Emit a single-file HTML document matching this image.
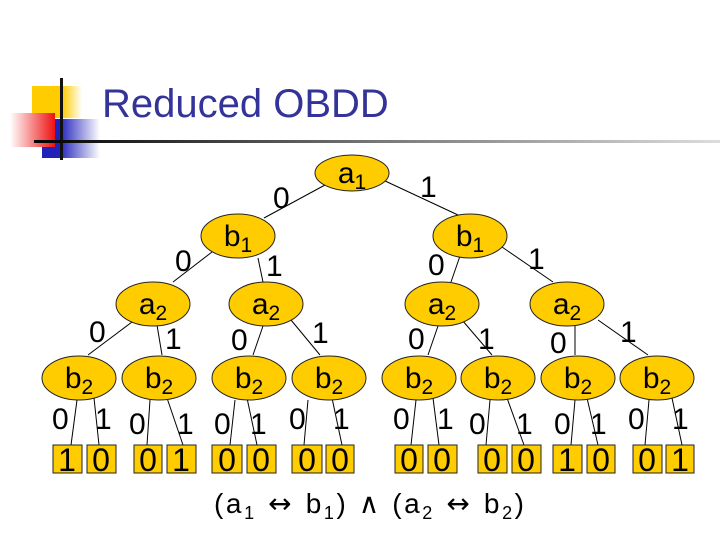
<!DOCTYPE html>
<html><head><meta charset="utf-8"><style>
html,body{margin:0;padding:0;background:#fff;}
svg{display:block;}
text{font-family:"Liberation Sans",sans-serif;}
</style></head><body>
<svg width="720" height="540" viewBox="0 0 720 540" xmlns="http://www.w3.org/2000/svg">
<defs>
<linearGradient id="gy" x1="0" x2="1"><stop offset="0.6" stop-color="#ffcc00"/><stop offset="1" stop-color="#fff"/></linearGradient>
<linearGradient id="gr" x1="0" x2="1"><stop offset="0" stop-color="#fff"/><stop offset="1" stop-color="#ee1111"/></linearGradient>
<linearGradient id="gb" x1="0" x2="1"><stop offset="0.3" stop-color="#2222bb"/><stop offset="1" stop-color="#fff"/></linearGradient>
<linearGradient id="gl" x1="0" x2="1"><stop offset="0" stop-color="#000"/><stop offset="0.5" stop-color="#777"/><stop offset="1" stop-color="#ddd"/></linearGradient>
</defs>
<rect x="32" y="86" width="50" height="32" fill="url(#gy)"/>
<rect x="42" y="119" width="58" height="39" fill="url(#gb)"/>
<rect x="10" y="113" width="45" height="34" fill="url(#gr)"/>
<rect x="60" y="78" width="3" height="82" fill="#111"/>
<rect x="34" y="140" width="686" height="3" fill="url(#gl)"/>
<text x="102" y="117" font-size="40" fill="#333399">Reduced OBDD</text>

<g stroke="#000" stroke-width="1">
<line x1="325" y1="185" x2="264" y2="218"/>
<line x1="383" y1="180" x2="458" y2="215"/>
<line x1="212" y1="252" x2="173" y2="282"/>
<line x1="258" y1="258" x2="263" y2="282"/>
<line x1="132" y1="322" x2="88" y2="355"/>
<line x1="157" y1="325" x2="162" y2="355"/>
<line x1="263" y1="326" x2="253" y2="355"/>
<line x1="291" y1="320" x2="320" y2="355"/>
<line x1="460" y1="256" x2="451" y2="282"/>
<line x1="502" y1="247" x2="553" y2="282"/>
<line x1="438" y1="326" x2="428" y2="355"/>
<line x1="462" y1="320" x2="492" y2="355"/>
<line x1="575" y1="325" x2="575" y2="355"/>
<line x1="598" y1="320" x2="648" y2="355"/>
<line x1="77" y1="400" x2="71" y2="445"/><line x1="94" y1="398" x2="99" y2="445"/>
<line x1="150" y1="400" x2="147" y2="445"/><line x1="167" y1="398" x2="183" y2="445"/>
<line x1="235" y1="400" x2="230" y2="445"/><line x1="247" y1="398" x2="257" y2="445"/>
<line x1="308" y1="400" x2="304" y2="445"/><line x1="332" y1="398" x2="342" y2="445"/>
<line x1="416" y1="400" x2="411" y2="445"/><line x1="433" y1="398" x2="439" y2="445"/>
<line x1="490" y1="400" x2="486" y2="445"/><line x1="507" y1="398" x2="524" y2="445"/>
<line x1="575" y1="400" x2="571" y2="445"/><line x1="587" y1="398" x2="598" y2="445"/>
<line x1="649" y1="400" x2="645" y2="445"/><line x1="672" y1="398" x2="682" y2="445"/>
</g>

<g fill="#ffcc00" stroke="#222" stroke-width="1">
<ellipse cx="352" cy="173" rx="37" ry="18"/>
<ellipse cx="238" cy="236" rx="37" ry="22"/>
<ellipse cx="470" cy="236" rx="37" ry="22"/>
<ellipse cx="153" cy="304" rx="37" ry="22"/>
<ellipse cx="266" cy="304" rx="37" ry="22"/>
<ellipse cx="442" cy="304" rx="37" ry="22"/>
<ellipse cx="567" cy="304" rx="37" ry="22"/>
<ellipse cx="79" cy="378" rx="37" ry="22"/>
<ellipse cx="159" cy="378" rx="37" ry="22"/>
<ellipse cx="249" cy="378" rx="37" ry="22"/>
<ellipse cx="329" cy="378" rx="37" ry="22"/>
<ellipse cx="419" cy="378" rx="37" ry="22"/>
<ellipse cx="498" cy="378" rx="37" ry="22"/>
<ellipse cx="578" cy="378" rx="37" ry="22"/>
<ellipse cx="657" cy="378" rx="37" ry="22"/>
<rect x="53" y="445" width="29" height="28"/><rect x="87" y="445" width="29" height="28"/>
<rect x="134" y="445" width="28" height="28"/><rect x="167" y="445" width="29" height="28"/>
<rect x="212" y="445" width="30" height="28"/><rect x="247" y="445" width="29" height="28"/>
<rect x="292" y="445" width="30" height="28"/><rect x="326" y="445" width="28" height="28"/>
<rect x="395" y="445" width="28" height="28"/><rect x="428" y="445" width="29" height="28"/>
<rect x="478" y="445" width="29" height="28"/><rect x="512" y="445" width="29" height="28"/>
<rect x="553" y="445" width="29" height="28"/><rect x="587" y="445" width="28" height="28"/>
<rect x="633" y="445" width="29" height="28"/><rect x="666" y="445" width="28" height="28"/>
</g>
<g font-size="32" text-anchor="middle" fill="#000">
<text x="67" y="471">1</text><text x="101" y="471">0</text>
<text x="148" y="471">0</text><text x="181" y="471">1</text>
<text x="227" y="471">0</text><text x="261" y="471">0</text>
<text x="307" y="471">0</text><text x="340" y="471">0</text>
<text x="409" y="471">0</text><text x="442" y="471">0</text>
<text x="492" y="471">0</text><text x="526" y="471">0</text>
<text x="567" y="471">1</text><text x="601" y="471">0</text>
<text x="647" y="471">0</text><text x="680" y="471">1</text>
</g>
<g font-size="30" fill="#000" text-anchor="middle">
<text x="352" y="183">a<tspan font-size="21" dy="6">1</tspan></text>
<text x="238" y="246">b<tspan font-size="21" dy="6">1</tspan></text>
<text x="470" y="246">b<tspan font-size="21" dy="6">1</tspan></text>
<text x="153" y="314">a<tspan font-size="21" dy="6">2</tspan></text>
<text x="266" y="314">a<tspan font-size="21" dy="6">2</tspan></text>
<text x="442" y="314">a<tspan font-size="21" dy="6">2</tspan></text>
<text x="567" y="314">a<tspan font-size="21" dy="6">2</tspan></text>
<text x="79" y="388">b<tspan font-size="21" dy="6">2</tspan></text>
<text x="159" y="388">b<tspan font-size="21" dy="6">2</tspan></text>
<text x="249" y="388">b<tspan font-size="21" dy="6">2</tspan></text>
<text x="329" y="388">b<tspan font-size="21" dy="6">2</tspan></text>
<text x="419" y="388">b<tspan font-size="21" dy="6">2</tspan></text>
<text x="498" y="388">b<tspan font-size="21" dy="6">2</tspan></text>
<text x="578" y="388">b<tspan font-size="21" dy="6">2</tspan></text>
<text x="657" y="388">b<tspan font-size="21" dy="6">2</tspan></text>
</g>
<g font-size="30" fill="#000">
<text x="273" y="208">0</text><text x="420" y="197">1</text>
<text x="175" y="271">0</text><text x="266" y="276">1</text>
<text x="428" y="275">0</text><text x="528" y="269">1</text>
<text x="89" y="342">0</text><text x="165" y="349">1</text>
<text x="231" y="350">0</text><text x="312" y="343">1</text>
<text x="408" y="349">0</text><text x="478" y="349">1</text>
<text x="550" y="353">0</text><text x="620" y="342">1</text>
<text x="52" y="429">0</text><text x="95" y="429">1</text>
<text x="129" y="434">0</text><text x="177" y="434">1</text>
<text x="214" y="434">0</text><text x="250" y="434">1</text>
<text x="289" y="429">0</text><text x="333" y="429">1</text>
<text x="393" y="429">0</text><text x="437" y="429">1</text>
<text x="469" y="434">0</text><text x="516" y="434">1</text>
<text x="554" y="434">0</text><text x="590" y="434">1</text>
<text x="628" y="429">0</text><text x="672" y="429">1</text>
</g>
<text x="214" y="513" font-size="28" fill="#000" textLength="310">(a<tspan font-size="18" dy="6">1</tspan><tspan dy="-6" font-family="DejaVu Sans"> ↔ </tspan><tspan>b</tspan><tspan font-size="18" dy="6">1</tspan><tspan dy="-6">) </tspan><tspan font-family="DejaVu Sans">∧</tspan><tspan> (a</tspan><tspan font-size="18" dy="6">2</tspan><tspan dy="-6" font-family="DejaVu Sans"> ↔ </tspan><tspan>b</tspan><tspan font-size="18" dy="6">2</tspan><tspan dy="-6">)</tspan></text>
</svg>
</body></html>
